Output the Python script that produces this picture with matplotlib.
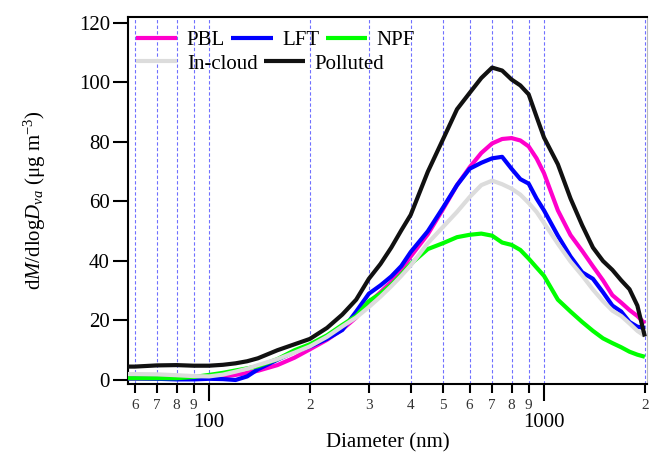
import matplotlib
matplotlib.use('Agg')
import matplotlib.pyplot as plt
from matplotlib.ticker import FixedLocator, FixedFormatter

plt.rcParams['font.family'] = ['Liberation Serif', 'DejaVu Serif']
plt.rcParams['mathtext.fontset'] = 'custom'
plt.rcParams['mathtext.rm'] = 'Liberation Serif'
plt.rcParams['mathtext.it'] = 'Liberation Serif:italic'

# diameters (nm) and dM/dlogDva (ug m-3)
diameter = [57, 60, 70, 80, 90, 100, 110, 120, 130, 140, 160, 180, 200, 225, 250,
            275, 300, 325, 350, 375, 400, 450, 500, 550, 600, 650, 700, 750, 800,
            850, 900, 950, 1000, 1100, 1200, 1300, 1400, 1500, 1600, 1700, 1800,
            1900, 2000]

pbl = [0.5, 0.5, 0.5, 0.5, 0.6, 0.8, 1.2, 1.7, 2.4, 3.1, 5.0, 7.5, 10.3, 13.5, 17.0,
       21.0, 26.0, 29.5, 33.0, 37.0, 41.5, 49.0, 57.5, 65.5, 71.5, 76.3, 79.5, 81.0,
       81.3, 80.5, 78.5, 74.5, 69.5, 57.0, 48.7, 43.4, 38.2, 33.5, 28.5, 26.0, 23.5,
       21.5, 19.0]
lft = [0.5, 0.5, 0.4, 0.2, 0.2, 0.4, 0.3, 0.0, 1.2, 3.6, 6.8, 9.5, 11.2, 13.8, 16.8,
       23.0, 29.0, 31.8, 34.8, 38.3, 43.0, 50.0, 58.0, 65.5, 71.0, 73.0, 74.5, 75.0,
       71.0, 67.5, 66.0, 61.0, 57.0, 48.5, 41.5, 36.2, 34.0, 29.5, 25.0, 23.0, 19.5,
       17.9, 17.5]
npf = [0.6, 0.6, 0.6, 0.6, 1.0, 1.7, 2.4, 3.2, 3.9, 4.6, 7.0, 10.0, 12.0, 15.0, 18.5,
       21.5, 26.5, 29.0, 32.0, 35.5, 39.0, 44.0, 46.0, 48.0, 48.8, 49.2, 48.5, 46.2,
       45.4, 43.7, 40.8, 37.8, 35.0, 27.0, 23.0, 19.5, 16.5, 14.0, 12.4, 11.0, 9.5,
       8.5, 7.8]
incloud = [2.0, 2.0, 1.9, 1.6, 1.3, 1.2, 1.8, 2.8, 3.8, 5.0, 7.0, 9.2, 11.3, 14.5, 18.0,
           21.0, 24.5, 28.0, 31.5, 35.0, 38.5, 46.0, 51.5, 56.5, 61.5, 65.5, 67.0, 65.8,
           64.3, 62.3, 59.5, 56.5, 52.8, 45.8, 39.8, 35.1, 30.4, 26.5, 23.3, 21.5, 19.0,
           16.5, 14.8]
polluted = [4.5, 4.5, 4.9, 5.0, 4.8, 4.8, 5.1, 5.6, 6.3, 7.3, 10.0, 12.0, 13.8, 17.5, 22.0,
            27.0, 34.0, 39.0, 44.5, 50.3, 55.5, 70.0, 81.0, 91.0, 96.5, 101.5, 105.0, 104.0,
            101.0, 99.0, 96.0, 88.5, 81.5, 72.5, 61.0, 52.0, 44.5, 40.0, 37.0, 33.5, 30.5,
            25.0, 14.6]

major_x = [100, 1000]
minor_x = [60, 70, 80, 90, 200, 300, 400, 500, 600, 700, 800, 900, 2000]
minor_labels = ['6', '7', '8', '9', '2', '3', '4', '5', '6', '7', '8', '9', '2']
y_ticks = [0, 20, 40, 60, 80, 100, 120]

fig = plt.figure(figsize=(6.5, 4.54), dpi=100)
ax = fig.add_axes([128 / 650, 1 - 384 / 454, 519 / 650, 367 / 454])

for xv in sorted(major_x + minor_x):
    ax.axvline(xv, color='#7070ff', lw=0.8, dashes=(3, 2), zorder=1)

series = [('PBL', pbl, '#ff00cc'), ('LFT', lft, '#0000ff'), ('NPF', npf, '#00ff00'),
          ('In-cloud', incloud, '#dcdcdc'), ('Polluted', polluted, '#111111')]
handles = {}
for name, vals, col in series:
    h, = ax.plot(diameter, vals, color=col, lw=3, solid_joinstyle='round',
                 solid_capstyle='butt', zorder=3)
    handles[name] = h

ax.set_xscale('log')
ax.set_xlim(57.3, 2030)
ax.set_ylim(-1.35, 122)

ax.xaxis.set_major_locator(FixedLocator(major_x))
ax.xaxis.set_major_formatter(FixedFormatter(['100', '1000']))
ax.xaxis.set_minor_locator(FixedLocator(minor_x))
ax.xaxis.set_minor_formatter(FixedFormatter(minor_labels))
ax.tick_params(axis='x', which='major', direction='out', length=12, width=1.5,
               labelsize=15, pad=9, colors='black')
ax.tick_params(axis='x', which='minor', direction='out', length=6.5, width=1.5,
               labelsize=11, pad=4, labelcolor='#333333')
ax.set_yticks(y_ticks)
ax.tick_params(axis='y', direction='out', length=11, width=1.5, labelsize=15, pad=2)
ax.tick_params(top=False, right=False)

for s in ['left', 'bottom', 'top']:
    ax.spines[s].set_linewidth(1.5)
ax.spines['right'].set_color('#bbbbbb')
ax.spines['right'].set_linewidth(0.8)

ax.set_xlabel('Diameter (nm)', fontsize=15, va='top')
ax.xaxis.set_label_coords(0.5, -0.134)
ax.set_ylabel(r'd$M$/dlog$D_{va}$ ($\mathrm{\mu}$g m$^{-3}$)', fontsize=15)
ax.yaxis.set_label_coords(-0.155, 0.5)

leg_kw = dict(frameon=False, fontsize=15, handlelength=2.0, handletextpad=0.45,
              columnspacing=0.3, borderpad=0, borderaxespad=0, loc='center left')
row1 = ax.legend([handles[n] for n in ['PBL', 'LFT', 'NPF']], ['PBL', 'LFT', 'NPF'],
                 ncol=3, bbox_to_anchor=(0.015, 0.937), **leg_kw)
ax.add_artist(row1)
ax.legend([handles[n] for n in ['In-cloud', 'Polluted']], ['In-cloud', 'Polluted'],
          ncol=2, bbox_to_anchor=(0.015, 0.872), **leg_kw)

fig.savefig('out.png', dpi=100)
